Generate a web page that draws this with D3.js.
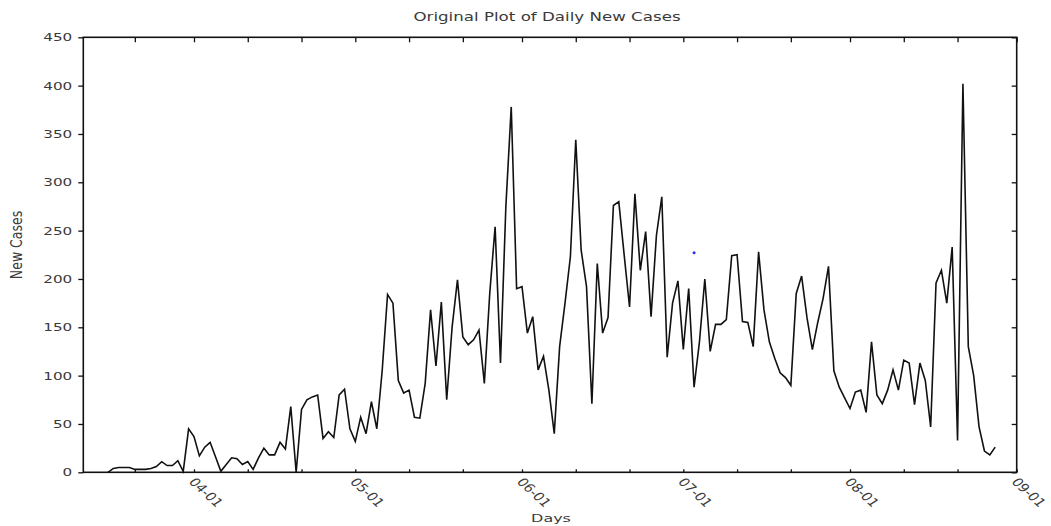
<!DOCTYPE html>
<html>
<head>
<meta charset="utf-8">
<script src="https://cdn.jsdelivr.net/npm/d3@7"></script>
<style>
body { margin: 0; background: #fff; }
text { font-family: "DejaVu Sans", sans-serif; fill: #3a3a3a; }
</style>
</head>
<body>
<div id="chart"></div>
<script>
// daily new cases, one value per day starting at firstDay
var firstDay = "2020-03-16";
var newCases = [
  0, 4, 5, 5, 5, 3, 3, 3, 4, 6, 11, 7, 7, 12, 1, 45, 37, 17, 26, 31,
  16, 1, 8, 15, 14, 8, 11, 3, 15, 25, 18, 18, 31, 24, 68, 0, 65, 75, 78, 80,
  35, 42, 36, 80, 86, 45, 32, 57, 40, 73, 45, 105, 184, 175, 95, 82, 85, 57, 56, 92,
  168, 110, 176, 75, 150, 199, 140, 132, 137, 147, 92, 185, 254, 113, 275, 378, 190, 192, 144, 161,
  106, 120, 85, 40, 130, 175, 223, 344, 230, 192, 71, 216, 144, 160, 276, 280, 225, 171, 288, 209,
  249, 161, 245, 285, 119, 175, 198, 127, 190, 88, 135, 200, 125, 153, 153, 158, 224, 225, 156, 155,
  130, 228, 168, 135, 118, 103, 98, 90, 185, 203, 160, 127, 155, 180, 213, 105, 88, 77, 66, 83,
  85, 62, 135, 80, 71, 85, 106, 85, 116, 113, 70, 113, 95, 47, 196, 209, 175, 233, 33, 402,
  130, 100, 47, 22, 18, 26
];

// single blue marker inside the plot
var strayPoint = {day: "2020-07-03", cases: 227};

var monthTicks = ["2020-04-01", "2020-05-01", "2020-06-01", "2020-07-01", "2020-08-01", "2020-09-01"];
var minorTicks = ["2020-03-21", "2020-04-11", "2020-04-21", "2020-05-11", "2020-05-21",
  "2020-06-11", "2020-06-21", "2020-07-11", "2020-07-21", "2020-08-11", "2020-08-21"];
var yTicks = [0, 50, 100, 150, 200, 250, 300, 350, 400, 450];

var parseDay = d3.timeParse("%Y-%m-%d");
var fmt = d3.timeFormat("%m-%d");

var data = newCases.map(function(v, i) {
  return {day: d3.timeDay.offset(parseDay(firstDay), i), cases: v};
});

var W = 1051, H = 526;
var margin = {top: 37.3, right: 34.3, bottom: 53.7, left: 83.3},
    width = W - margin.left - margin.right,
    height = H - margin.top - margin.bottom;

var stretch = 1.45; // the picture is squeezed wide, text too

var svg = d3.select("#chart").append("svg")
  .attr("width", W)
  .attr("height", H);

var g = svg.append("g")
  .attr("transform", "translate(" + margin.left + "," + margin.top + ")");

var x = d3.scaleTime()
  .domain([new Date(2020, 2, 11, 10), parseDay("2020-09-01")])
  .range([0, width]);

var y = d3.scaleLinear()
  .domain([0, 450])
  .range([height, 0]);

var allTicks = monthTicks.concat(minorTicks).map(parseDay);

// bottom ticks point inward
g.append("g")
  .attr("transform", "translate(0," + height + ")")
  .call(d3.axisBottom(x).tickValues(allTicks).tickSize(-3).tickSizeOuter(0).tickFormat(""));

// top ticks
g.append("g")
  .call(d3.axisTop(x).tickValues(allTicks).tickSize(-5).tickSizeOuter(0).tickFormat(""));

// left ticks go outward
g.append("g")
  .call(d3.axisLeft(y).tickValues(yTicks).tickSize(5).tickSizeOuter(0).tickFormat(""));

// right ticks inward
g.append("g")
  .attr("transform", "translate(" + width + ",0)")
  .call(d3.axisRight(y).tickValues(yTicks).tickSize(-5).tickSizeOuter(0).tickFormat(""));

g.selectAll(".domain").remove();
g.selectAll(".tick line").attr("stroke", "#111").attr("stroke-width", 1.3);

g.append("rect")
  .attr("width", width)
  .attr("height", height)
  .attr("fill", "none")
  .attr("stroke", "#111")
  .attr("stroke-width", 1.6);

// y tick labels
g.selectAll(".ylab")
  .data(yTicks)
  .enter().append("text")
  .attr("class", "ylab")
  .attr("text-anchor", "end")
  .attr("font-size", "10.5px")
  .attr("transform", function(d) { return "translate(-11," + (y(d) + 4) + ") scale(" + stretch + ",1)"; })
  .text(function(d) { return d; });

// rotated month labels
g.selectAll(".xlab")
  .data(monthTicks)
  .enter().append("text")
  .attr("class", "xlab")
  .attr("font-size", "11.5px")
  .attr("transform", function(d) {
    return "translate(" + (x(parseDay(d)) - 6) + "," + (height + 10) + ") scale(1.3,1) rotate(49.5)";
  })
  .text(function(d) { return fmt(parseDay(d)); });

var line = d3.line()
  .x(function(d) { return x(d.day); })
  .y(function(d) { return y(d.cases); });

g.append("path")
  .datum(data)
  .attr("fill", "none")
  .attr("stroke", "#111")
  .attr("stroke-width", 1.6)
  .attr("stroke-linejoin", "miter")
  .attr("d", line);

g.append("circle")
  .attr("cx", x(parseDay(strayPoint.day)))
  .attr("cy", y(strayPoint.cases))
  .attr("r", 1.5)
  .attr("fill", "#2233ee");

// titles
svg.append("text")
  .attr("text-anchor", "middle")
  .attr("font-size", "11.5px")
  .attr("transform", "translate(547,21) scale(" + stretch + ",1)")
  .text("Original Plot of Daily New Cases");

svg.append("text")
  .attr("text-anchor", "middle")
  .attr("font-size", "11px")
  .attr("transform", "translate(551,522) scale(" + stretch + ",1)")
  .text("Days");

svg.append("text")
  .attr("text-anchor", "middle")
  .attr("font-size", "12.5px")
  .attr("transform", "translate(22,245) scale(1.2,1) rotate(-90)")
  .text("New Cases");
</script>
</body>
</html>
